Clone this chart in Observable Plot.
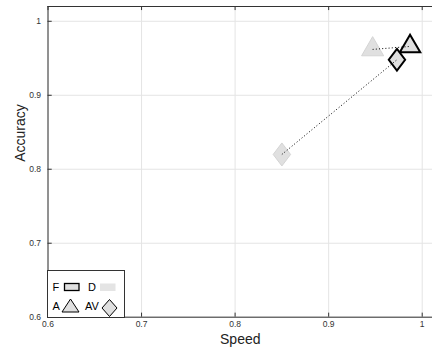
<!DOCTYPE html>
<html>
<head>
<meta charset="utf-8">
<script src="https://cdn.jsdelivr.net/npm/d3@7"></script>
<script src="https://cdn.jsdelivr.net/npm/@observablehq/plot@0.6"></script>
<style>
  html, body { margin: 0; padding: 0; background: #fff; }
  #wrap { position: relative; width: 432px; height: 352px; overflow: hidden; font-family: "Liberation Sans", Arial, Helvetica, sans-serif; }
  #legend { position: absolute; left: 47px; top: 270px; width: 76px; height: 46px; border: 1px solid #333; background: #fff; }
</style>
</head>
<body>
<div id="wrap"></div>
<script>
// ---- data ----
const conditions = ["A", "AV"];
const groups = ["F", "D"];
const speedF = [0.987, 0.973];
const accuracyF = [0.966, 0.948];
const speedD = [0.947, 0.850];
const accuracyD = [0.962, 0.820];
const xTicks = [0.6, 0.7, 0.8, 0.9, 1];
const yTicks = [0.6, 0.7, 0.8, 0.9, 1];
const xLabel = "Speed";
const yLabel = "Accuracy";

// ---- table built from arrays ----
const rows = [];
conditions.forEach((c, i) => {
  rows.push({group: "F", condition: c, speed: speedF[i], accuracy: accuracyF[i]});
  rows.push({group: "D", condition: c, speed: speedD[i], accuracy: accuracyD[i]});
});
const links = conditions.map((c, i) => ({condition: c, x1: speedD[i], y1: accuracyD[i], x2: speedF[i], y2: accuracyF[i]}));

// custom symbols
const triangle = {
  draw(ctx, size) {
    const y = -Math.sqrt(size / (Math.sqrt(3) * 3));
    ctx.moveTo(0, y * 2);
    ctx.lineTo(-Math.sqrt(3) * y, -y);
    ctx.lineTo(Math.sqrt(3) * y, -y);
    ctx.closePath();
  }
};
const diamond = {
  draw(ctx, size) {
    const r = Math.sqrt(size / Math.PI);
    ctx.moveTo(0, -r * 1.15);
    ctx.lineTo(r * 0.87, 0);
    ctx.lineTo(0, r * 1.15);
    ctx.lineTo(-r * 0.87, 0);
    ctx.closePath();
  }
};
const symbolOf = {A: triangle, AV: diamond};

const xDomain = [0.6, 1.011];
const yDomain = [0.6, 1.02];
const fmt = d => String(d);

const marks = [
  Plot.gridX(xTicks, {stroke: "#e4e4e4", strokeOpacity: 1}),
  Plot.gridY(yTicks, {stroke: "#e4e4e4", strokeOpacity: 1}),
  // inward ticks
  Plot.ruleX(xTicks, {y1: yDomain[0], y2: yDomain[0] + 0.0055, stroke: "#333"}),
  Plot.ruleX(xTicks, {y1: yDomain[1] - 0.0055, y2: yDomain[1], stroke: "#333"}),
  Plot.ruleY(yTicks, {x1: xDomain[0], x2: xDomain[0] + 0.0045, stroke: "#333"}),
  // frame lines
  Plot.ruleY([yDomain[0]], {stroke: "#333"}),
  Plot.ruleY([yDomain[1]], {stroke: "#333"}),
  Plot.ruleX([xDomain[0]], {stroke: "#333"}),
  Plot.axisX(xTicks, {tickSize: 0, tickPadding: 4, tickFormat: fmt, label: null, fontSize: 8.5, fill: "#333"}),
  Plot.axisY(yTicks, {tickSize: 0, tickPadding: 7, tickFormat: fmt, label: null, fontSize: 8.5, fill: "#333"}),
];
// D markers (behind)
for (const c of conditions) {
  marks.push(Plot.dot(rows.filter(d => d.group === "D" && d.condition === c), {
    x: "speed", y: "accuracy", symbol: symbolOf[c], r: c === "A" ? 8.2 : 10,
    fill: "#e0e0e0", stroke: "#d4d4d4", strokeWidth: 1
  }));
}
// F markers
for (const c of conditions) {
  marks.push(Plot.dot(rows.filter(d => d.group === "F" && d.condition === c), {
    x: "speed", y: "accuracy", symbol: symbolOf[c], r: c === "A" ? 7.6 : 9.4,
    fill: "#e0e0e0", stroke: "#000", strokeWidth: 2, strokeLinejoin: "miter"
  }));
}
// dotted links on top
marks.push(Plot.link(links, {x1: "x1", y1: "y1", x2: "x2", y2: "y2", stroke: "#000", strokeWidth: 1, strokeDasharray: "1,2.2"}));
// axis titles
marks.push(Plot.text([xLabel], {frameAnchor: "bottom", dy: 26.5, fontSize: 14, fill: "#222", text: d => d}));
marks.push(Plot.text([yLabel], {frameAnchor: "left", dx: -27, rotate: -90, fontSize: 14, fill: "#222", text: d => d}));

const chart = Plot.plot({
  width: 432,
  height: 352,
  marginLeft: 47.5,
  marginRight: 0,
  marginTop: 6,
  marginBottom: 35.3,
  style: {fontFamily: "Liberation Sans, Arial, Helvetica, sans-serif", background: "#fff", overflow: "visible"},
  x: {domain: xDomain},
  y: {domain: yDomain},
  marks
});
const wrap = document.getElementById("wrap");
wrap.appendChild(chart);

// legend
const legend = document.createElement("div");
legend.id = "legend";
legend.innerHTML = `
<svg width="76" height="46" style="display:block;font-family:'Liberation Sans',Arial,Helvetica,sans-serif;font-size:11px;">
  <text x="4.5" y="20" fill="#000">${groups[0]}</text>
  <rect x="16.5" y="12.5" width="14.5" height="7" fill="#e0e0e0" stroke="#000" stroke-width="1.3"/>
  <text x="40" y="20" fill="#000">${groups[1]}</text>
  <rect x="52" y="12.5" width="15.5" height="7.5" fill="#e4e4e4" stroke="none"/>
  <text x="4.5" y="39" fill="#000">${conditions[0]}</text>
  <path d="M22.5,28 L31,41 L14,41 Z" fill="#e0e0e0" stroke="#000" stroke-width="1"/>
  <text x="37" y="39" fill="#000">${conditions[1]}</text>
  <path d="M61.5,28.5 L69,37 L61.5,45.5 L54,37 Z" fill="#e0e0e0" stroke="#000" stroke-width="1"/>
</svg>`;
wrap.appendChild(legend);
</script>
</body>
</html>
